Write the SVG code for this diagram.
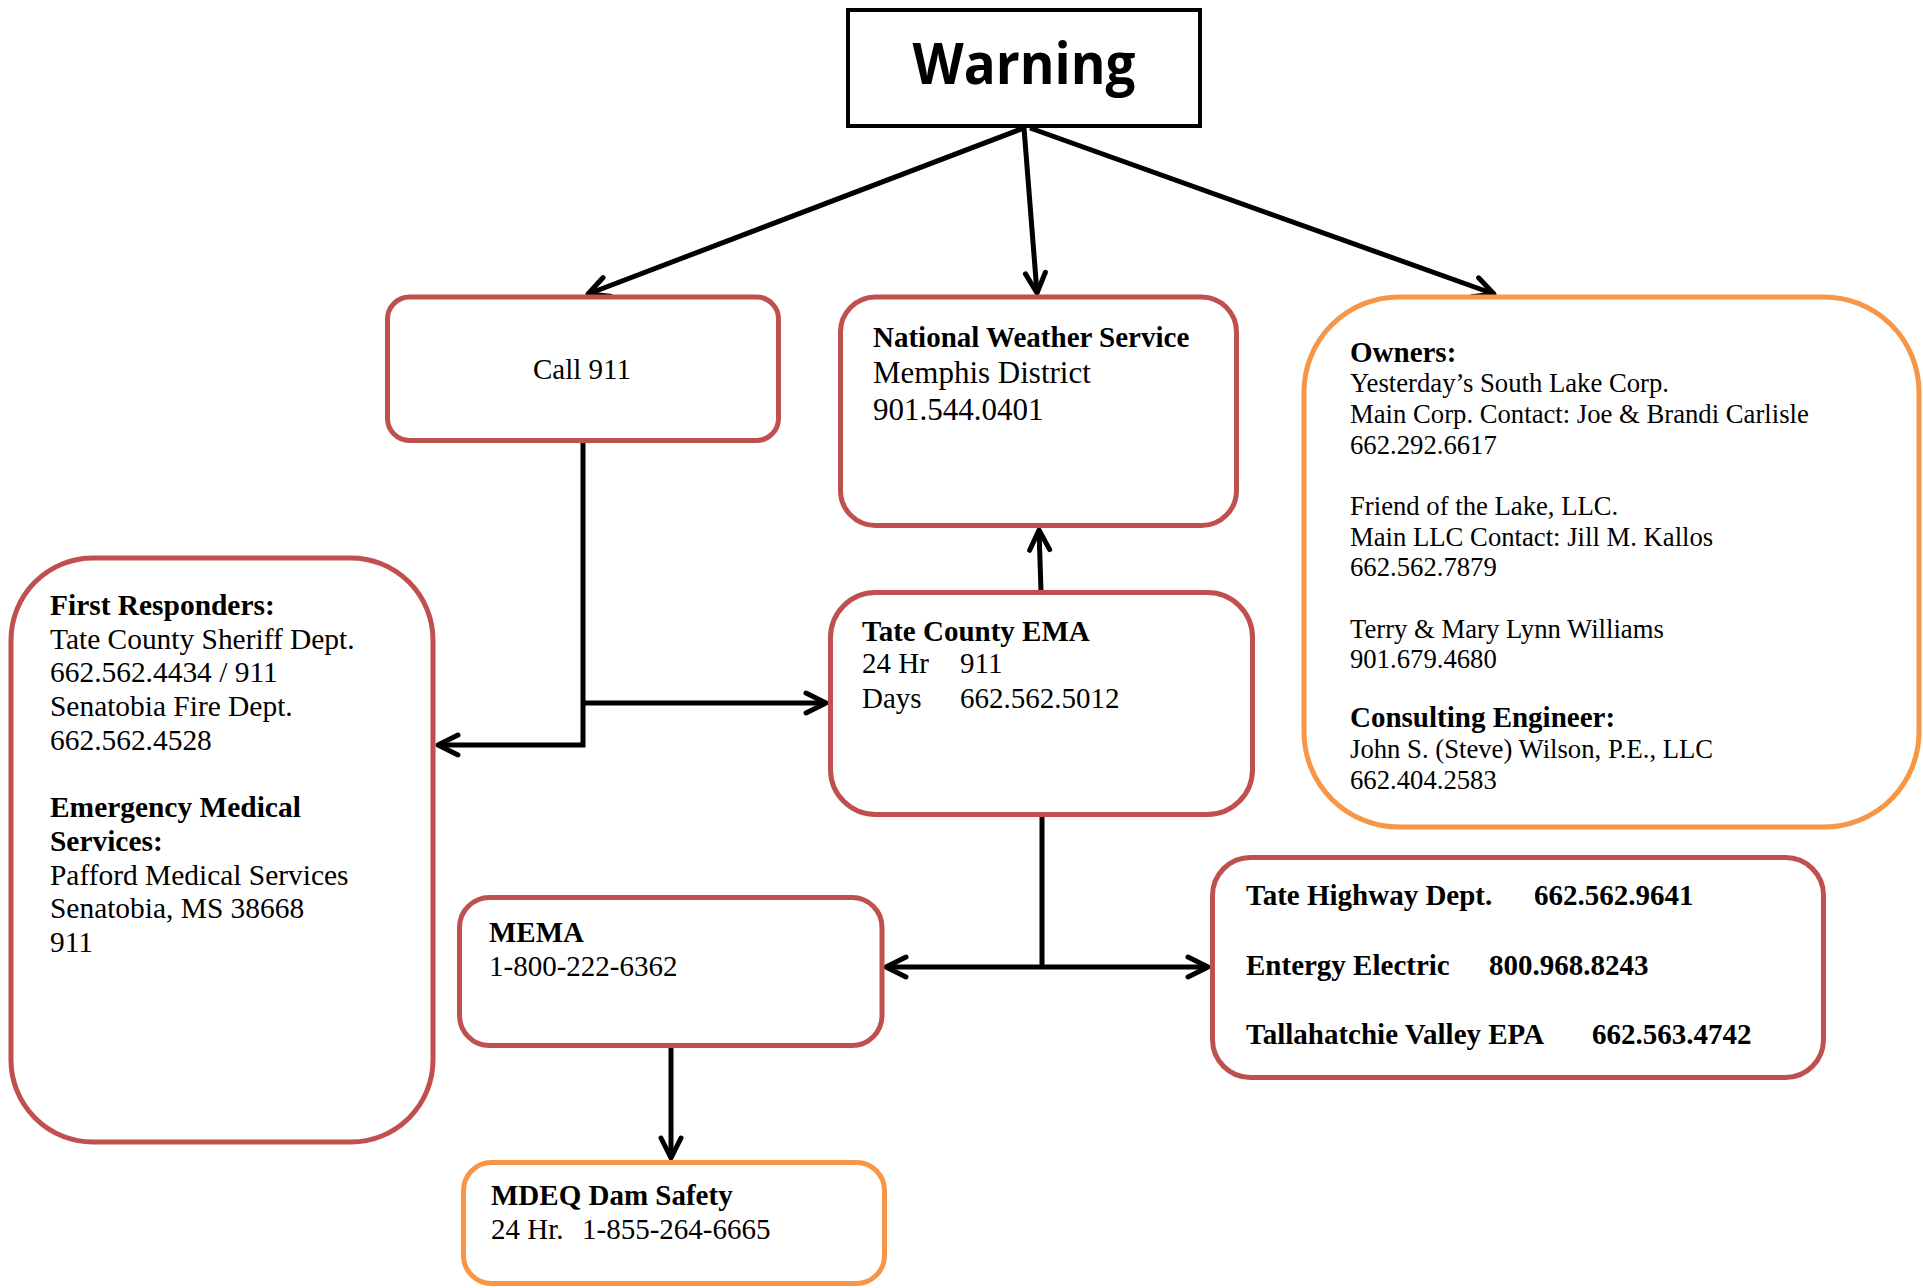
<svg xmlns="http://www.w3.org/2000/svg" width="1923" height="1288" viewBox="0 0 1923 1288">
<style>
.red{fill:#fff;stroke:#C0504D;stroke-width:5}
.org{fill:#fff;stroke:#F79646;stroke-width:5}
.t{font-family:"Liberation Serif","Times New Roman",serif;font-size:29px;fill:#000}
.b{font-weight:bold}
.r31{font-size:31px}
.o{font-size:26.7px}
.c{fill:none;stroke:#000;stroke-width:5}
</style>
<defs>
<marker id="arr" markerUnits="userSpaceOnUse" markerWidth="30" markerHeight="30" viewBox="-25 -15 30 30" refX="0" refY="0" orient="auto">
<path d="M-20,-10 L0,0 L-20,10" fill="none" stroke="#000" stroke-width="5" stroke-linecap="round" stroke-linejoin="round"/>
</marker>
</defs>
<rect width="1923" height="1288" fill="#fff"/>
<g id="connectors">
<path class="c" d="M1024,128 L588,294" marker-end="url(#arr)"/>
<path class="c" d="M1024,128 L1037,293" marker-end="url(#arr)"/>
<path class="c" d="M1030,128 L1494,294" marker-end="url(#arr)"/>
<path class="c" d="M583,441 L583,745 L438,745" marker-end="url(#arr)"/>
<path class="c" d="M583,703 L826,703" marker-end="url(#arr)"/>
<path class="c" d="M1041,591 L1039,530" marker-end="url(#arr)"/>
<path class="c" d="M1042,817 L1042,967"/>
<path class="c" d="M1042,967 L886,967" marker-end="url(#arr)"/>
<path class="c" d="M1042,967 L1208,967" marker-end="url(#arr)"/>
<path class="c" d="M671,1048 L671,1158" marker-end="url(#arr)"/>
</g>
<g id="warning">
<rect x="848" y="10" width="352" height="116" fill="#fff" stroke="#000" stroke-width="4"/>
<text x="1024" y="84" text-anchor="middle" font-family="'Open Sans','Liberation Sans',sans-serif" font-weight="bold" font-size="58" textLength="223" lengthAdjust="spacingAndGlyphs">Warning</text>
</g>
<g id="call911">
<rect class="red" x="387.5" y="297" width="391" height="143.5" rx="22"/>
<text class="t" x="582" y="379" text-anchor="middle">Call 911</text>
</g>
<g id="nws">
<rect class="red" x="840.5" y="297" width="396" height="228.5" rx="35"/>
<text class="t b" x="873" y="347">National Weather Service</text>
<text class="t r31" x="873" y="383">Memphis District</text>
<text class="t r31" x="873" y="420">901.544.0401</text>
</g>
<g id="owners">
<rect class="org" x="1304" y="297" width="615" height="530" rx="95"/>
<text class="t b" x="1350" y="362">Owners:</text>
<text class="t o" x="1350" y="392">Yesterday’s South Lake Corp.</text>
<text class="t o" x="1350" y="423">Main Corp. Contact: Joe &amp; Brandi Carlisle</text>
<text class="t o" x="1350" y="454">662.292.6617</text>
<text class="t o" x="1350" y="515">Friend of the Lake, LLC.</text>
<text class="t o" x="1350" y="546">Main LLC Contact: Jill M. Kallos</text>
<text class="t o" x="1350" y="576">662.562.7879</text>
<text class="t o" x="1350" y="638">Terry &amp; Mary Lynn Williams</text>
<text class="t o" x="1350" y="668">901.679.4680</text>
<text class="t b" x="1350" y="727">Consulting Engineer:</text>
<text class="t o" x="1350" y="758">John S. (Steve) Wilson, P.E., LLC</text>
<text class="t o" x="1350" y="789">662.404.2583</text>
</g>
<g id="first-responders">
<rect class="red" x="11" y="558" width="422" height="584" rx="82"/>
<g transform="translate(50,0) scale(1.015,1)">
<text class="t b" x="0" y="615">First Responders:</text>
<text class="t" x="0" y="649">Tate County Sheriff Dept.</text>
<text class="t" x="0" y="682">662.562.4434 / 911</text>
<text class="t" x="0" y="716">Senatobia Fire Dept.</text>
<text class="t" x="0" y="750">662.562.4528</text>
<text class="t b" x="0" y="817">Emergency Medical</text>
<text class="t b" x="0" y="851">Services:</text>
<text class="t" x="0" y="885">Pafford Medical Services</text>
<text class="t" x="0" y="918">Senatobia, MS 38668</text>
<text class="t" x="0" y="952">911</text>
</g>
</g>
<g id="tate-ema">
<rect class="red" x="830.5" y="592.5" width="422" height="222" rx="45"/>
<text class="t b" x="862" y="641">Tate County EMA</text>
<text class="t" x="862" y="673">24 Hr</text>
<text class="t" x="960" y="673">911</text>
<text class="t" x="862" y="708">Days</text>
<text class="t" x="960" y="708">662.562.5012</text>
</g>
<g id="mema">
<rect class="red" x="459.5" y="897.5" width="422.5" height="148" rx="30"/>
<text class="t b" x="489" y="942">MEMA</text>
<text class="t" x="489" y="976">1-800-222-6362</text>
</g>
<g id="mdeq">
<rect class="org" x="463.5" y="1162.5" width="421" height="121" rx="28"/>
<text class="t b" x="491" y="1205">MDEQ Dam Safety</text>
<text class="t" x="491" y="1239">24 Hr.</text>
<text class="t" x="582" y="1239">1-855-264-6665</text>
</g>
<g id="utilities">
<rect class="red" x="1212.5" y="857.5" width="611" height="220" rx="38"/>
<text class="t b" x="1246" y="905">Tate Highway Dept.</text>
<text class="t b" x="1534" y="905">662.562.9641</text>
<text class="t b" x="1246" y="975">Entergy Electric</text>
<text class="t b" x="1489" y="975">800.968.8243</text>
<text class="t b" x="1246" y="1044">Tallahatchie Valley EPA</text>
<text class="t b" x="1592" y="1044">662.563.4742</text>
</g>
</svg>
